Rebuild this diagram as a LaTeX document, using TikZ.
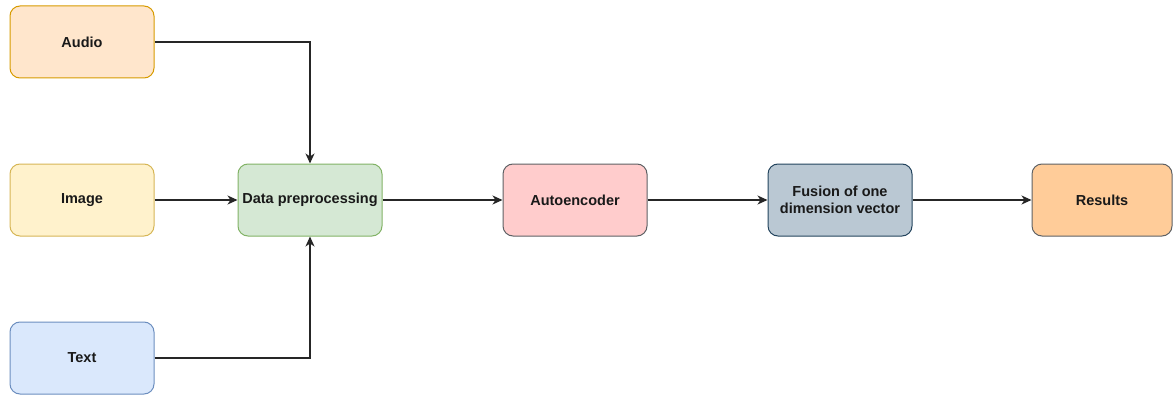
\documentclass[tikz,border=0pt]{standalone}
\usepackage{fontspec}
\setmainfont{Liberation Sans}
\usetikzlibrary{arrows.meta}
\definecolor{audF}{HTML}{FFE6CC}\definecolor{audD}{HTML}{D79B00}
\definecolor{imgF}{HTML}{FFF2CC}\definecolor{imgD}{HTML}{D6B656}
\definecolor{txtF}{HTML}{DAE8FC}\definecolor{txtD}{HTML}{6C8EBF}
\definecolor{dpF}{HTML}{D5E8D4}\definecolor{dpD}{HTML}{82B366}
\definecolor{aeF}{HTML}{FFCCCC}\definecolor{aeD}{HTML}{36393D}
\definecolor{fuF}{HTML}{BAC8D3}\definecolor{fuD}{HTML}{23445D}
\definecolor{reF}{HTML}{FFCC99}\definecolor{reD}{HTML}{36393D}
\tikzset{
  box/.style={draw, rounded corners=10pt, minimum width=144pt, minimum height=72pt,
    line width=1pt, inner sep=2pt, align=center,
    font=\fontsize{14.5}{17}\selectfont\bfseries, text=black!90},
  conn/.style={line width=1.2pt, draw=black!85, -{Stealth[length=10pt,width=9pt,inset=3pt]}},
}
\begin{document}
\begin{tikzpicture}[x=1pt,y=-1pt]
\useasboundingbox (0,0) rectangle (1173,396);
\node[box, fill=audF, draw=audD] (audio) at (82,42) {Audio};
\node[box, fill=imgF, draw=imgD] (image) at (82,200) {Image};
\node[box, fill=txtF, draw=txtD] (text) at (82,358) {Text};
\node[box, fill=dpF, draw=dpD] (dp) at (310,200) {Data preprocessing};
\node[box, fill=aeF, draw=aeD!80] (ae) at (575,200) {Autoencoder};
\node[box, fill=fuF, draw=fuD] (fu) at (840,200) {Fusion of one\\dimension vector};
\node[box, fill=reF, draw=reD!80, minimum width=140pt] (re) at (1102,200) {Results};
\draw[conn] (audio.east) -| (dp.north);
\draw[conn] (text.east) -| (dp.south);
\draw[conn] (image) -- (dp);
\draw[conn] (dp) -- (ae);
\draw[conn] (ae) -- (fu);
\draw[conn] (fu) -- (re);
\end{tikzpicture}
\end{document}
